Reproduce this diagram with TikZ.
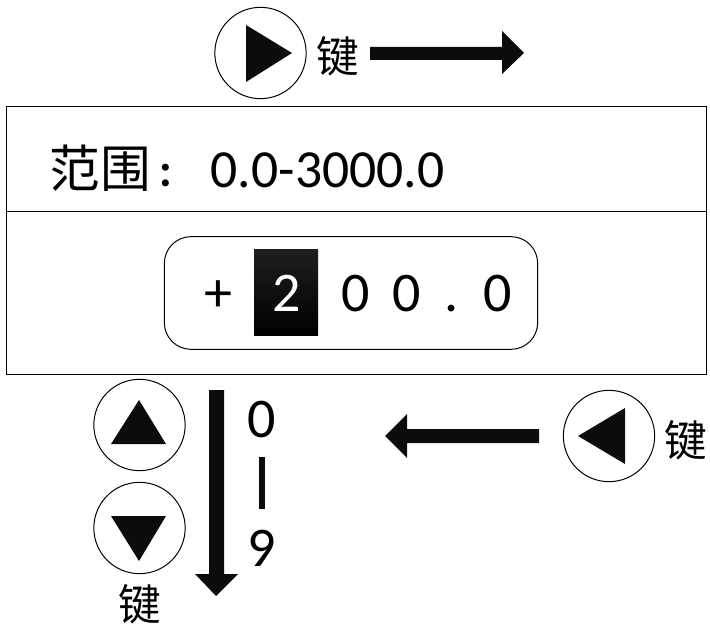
\documentclass[tikz,border=0pt]{standalone}
\usepackage{fontspec}
\setmainfont{Carlito}
\newfontfamily\cjk{Noto Sans CJK SC}
\definecolor{ink}{HTML}{0C0C0C}
\tikzset{
 x=0.75pt,y=-0.75pt,
 circ/.style={circle,draw,line width=0.75pt,inner sep=0pt,minimum size=68.5pt},
 key/.style={inner sep=0pt,font=\cjk\fontsize{32}{32}\selectfont},
 digit/.style={inner sep=0pt,anchor=base,font=\fontsize{42}{42}\selectfont},
 solid ink/.style={fill=ink},
}
\begin{document}
\begin{tikzpicture}
\useasboundingbox (0,0) rectangle (710,624);
\node[circ] (c1) at (260.5,53) {};
\node[circ] (c2) at (139.5,425) {};
\node[circ] (c3) at (139.5,528) {};
\node[circ] (c4) at (609,436) {};
\path[solid ink] (246,25) -- (246,82) -- (292,53) -- cycle;
\path[solid ink] (139,400) -- (111,444) -- (166,444) -- cycle;
\path[solid ink] (139,561) -- (111,516) -- (166,516) -- cycle;
\path[solid ink] (625,408) -- (625,464) -- (578,436) -- cycle;
\node[key] (k1) at (338,56) {键};
\node[key] (k2) at (686,440) {键};
\node[key] (k3) at (140,604) {键};
\path[solid ink] (370,47) -- (502,47) -- (502,31) -- (524,53) -- (502,74) -- (502,60) -- (370,60) -- cycle;
\path[solid ink] (539,429) -- (407,429) -- (407,414) -- (385,436) -- (407,458) -- (407,443) -- (539,443) -- cycle;
\path[solid ink] (209,390) -- (224,390) -- (224,574) -- (238,574) -- (216,596) -- (195,574) -- (209,574) -- cycle;
\node[draw,line width=0.75pt,minimum width=525pt,minimum height=201.4pt,inner sep=0pt] (outer) at (356.5,240.7) {};
\coordinate (dl) at (6.5,211);
\coordinate (dr) at (706.5,211);
\draw[line width=0.75pt] (dl) -- (dr);
\node[inner sep=0pt,anchor=center,font=\cjk\fontsize{38}{38}\selectfont] (t1) at (100,168) {范围};
\node[inner sep=0pt,anchor=center,font=\cjk\bfseries\fontsize{25}{25}\selectfont] (t3) at (174,175.5) {：};
\node[digit,anchor=base west,font=\fontsize{40.2}{40.2}\selectfont] (t2) at (210.5,187) {0.0-3000.0};
\node[draw,line width=0.75pt,rounded corners=20pt,minimum width=280pt,minimum height=84.5pt,inner sep=0pt] (rb) at (351,293) {};
\node[top color=black!88,bottom color=black,minimum width=48pt,minimum height=64.5pt,inner sep=0pt] (hl) at (286,292) {};
\foreach \n/\x/\s/\c in {p/218/+/black,d/287/2/white,a/355.5/0/black,b/406.5/0/black,e/452/./black,f/498/0/black}
  \node[digit,text=\c] (\n) at (\x,311) {\s};
\node[digit] (n0) at (262,437) {0};
\node[digit] (n9) at (262,566) {9};
\node[fill=ink,minimum width=4pt,minimum height=39pt,inner sep=0pt] (dash) at (262,483) {};
\end{tikzpicture}
\end{document}
